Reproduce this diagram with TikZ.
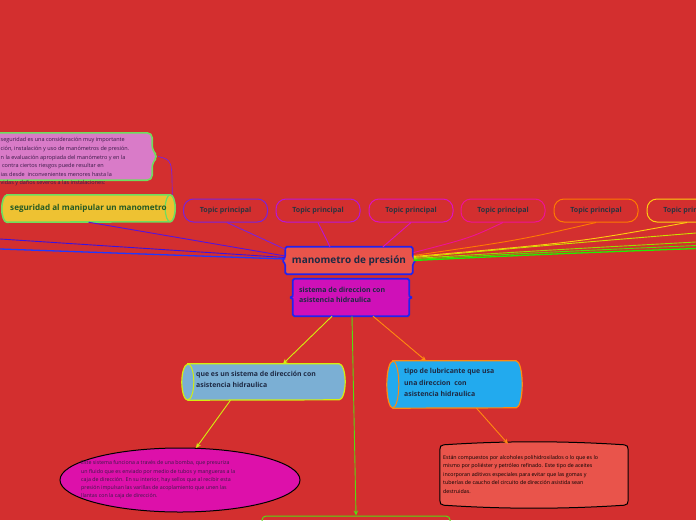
\documentclass[tikz,border=0pt]{standalone}
\usepackage{fontspec}
\setmainfont{Open Sans}
\usetikzlibrary{calc,arrows.meta,shapes.geometric}
\pgfdeclarelayer{back}
\pgfdeclarelayer{shapes}
\pgfsetlayers{back,shapes,main}
\definecolor{bg}{HTML}{D32F2F}
\definecolor{cfill}{HTML}{E9544B}
\definecolor{cblue}{HTML}{2222EE}
\definecolor{navy}{HTML}{1E2A44}
\definecolor{slate}{HTML}{2B3440}
\definecolor{magfill}{HTML}{CF10B8}
\definecolor{gold}{HTML}{EEC232}
\definecolor{lgreen}{HTML}{70DD5E}
\definecolor{dgreen}{HTML}{245A24}
\definecolor{pinkfill}{HTML}{D97BC8}
\definecolor{dpurple}{HTML}{3A1A48}
\definecolor{lblue}{HTML}{7BAFD4}
\definecolor{sky}{HTML}{22AAEE}
\definecolor{ygreen}{HTML}{D4EE10}
\definecolor{orng}{HTML}{FF8A10}
\definecolor{ellfill}{HTML}{DD10AA}
\definecolor{cA}{HTML}{7A22DD}
\definecolor{cB}{HTML}{B816D8}
\definecolor{cC}{HTML}{DD12BE}
\definecolor{cD}{HTML}{EE1296}
\definecolor{cE}{HTML}{FF7A00}
\definecolor{cF}{HTML}{FFCC10}
\definecolor{gA}{HTML}{CCE000}
\definecolor{gB}{HTML}{99DD00}
\definecolor{gC}{HTML}{55E000}
\definecolor{gD}{HTML}{22EE00}
\definecolor{bA}{HTML}{3A12E0}
\definecolor{bB}{HTML}{2038FF}
\definecolor{bC}{HTML}{5514DD}
\definecolor{bgreen}{HTML}{55DD11}
\tikzset{
  topic/.style={draw, line width=1, rounded corners=10, minimum width=84, minimum height=23, inner sep=0, text=slate, font=\bfseries\fontsize{7.1}{8}\selectfont},
  plain/.style={inner sep=0, draw=none},
  link/.style={line width=0.9},
  arr/.style={line width=0.9, -{Stealth[length=5pt,width=4.5pt]}}
}
\begin{document}
\begin{tikzpicture}[x=1pt,y=-1pt]
\useasboundingbox (0,0) rectangle (696,520);
\begin{pgfonlayer}{back}
\fill[bg] (0,0) rectangle (696,520);
\end{pgfonlayer}

% ---------- nodes ----------
\node[plain, minimum width=127, minimum height=27] (m) at (349,260.5)
  {\color{navy}\bfseries\fontsize{10}{11}\selectfont manometro de presión};
\node[plain, minimum width=116, minimum height=37] (s) at (351,297.5) {};
\node[plain, anchor=north west, align=left, text=navy,
  font=\bfseries\fontsize{7}{10}\selectfont] (st) at (299,287) {sistema de direccion con\\asistencia hidraulica};

\node[topic, draw=cA] (t1) at (225.5,210.5) {Topic principal};
\node[topic, draw=cB] (t2) at (318,210.5) {Topic principal};
\node[topic, draw=cC] (t3) at (411,210.5) {Topic principal};
\node[topic, draw=cD] (t4) at (503,210.5) {Topic principal};
\node[topic, draw=cE] (t5) at (596,210.5) {Topic principal};
\node[topic, draw=cF] (t6) at (689,210.5) {Topic principal};

\node[plain, minimum width=173, minimum height=27] (g) at (88.5,208.5)
  {\color{dgreen}\bfseries\fontsize{8.1}{9}\selectfont seguridad al manipular un manometro};
\node[plain, minimum width=160, minimum height=47] (k) at (72,156.5) {};
\node[plain, anchor=north west, align=left, text=dpurple,
  font=\fontsize{5.5}{8.6}\selectfont] (kt) at (0.5,137.5)
  {seguridad es una consideración muy importante\\
   ción, instalación y uso de manómetros de presión.\\
   n la evaluación apropiada del manómetro y en la\\
   \ contra ciertos riesgos puede resultar en\\
   ias desde \ inconvenientes menores hasta la\\
   vidas y daños severos a las instalaciones:};

\node[plain, minimum width=163, minimum height=36] (q) at (263.5,382) {};
\node[plain, anchor=north west, align=left, text=navy,
  font=\bfseries\fontsize{6.9}{11}\selectfont] (qt) at (196,371.5) {que es un sistema de dirección con\\asistencia hidraulica};

\node[plain, minimum width=135, minimum height=47] (t) at (454.5,384.5) {};
\node[plain, anchor=north west, align=left, text=navy,
  font=\bfseries\fontsize{6.9}{11.2}\selectfont] (tt) at (404,368.5) {tipo de lubricante que usa\\una direccion \ con\\asistencia hidraulica};

\node[ellipse, draw=black, line width=1, fill=ellfill, minimum width=240, minimum height=64, inner sep=0] (e) at (180,480) {};
\node[plain, anchor=north west, align=left, text=dpurple,
  font=\fontsize{5.3}{8.3}\selectfont] (et) at (81,460.5)
  {Este sistema funciona a través de una bomba, que presuriza\\
   un fluido que es enviado por medio de tubos y mangueras a la\\
   caja de dirección. En su interior, hay sellos que al recibir esta\\
   presión impulsan las varillas de acoplamiento que unen las\\
   llantas con la caja de dirección.};

\node[plain, minimum width=188, minimum height=64] (r) at (534,475) {};
\node[plain, anchor=north west, align=left, text=black,
  font=\fontsize{5.3}{8.5}\selectfont] (rt) at (443,455)
  {Están compuestos por alcoholes polihidroxilados o lo que es lo\\
   mismo por poliéster y petróleo refinado. Este tipo de aceites\\
   incorporan aditivos especiales para evitar que las gomas y\\
   tuberías de caucho del circuito de dirección asistida sean\\
   destruidas.};

\node[draw=bgreen, line width=1, rounded corners=4, minimum width=188, minimum height=24, inner sep=0] (b) at (356,528) {};

\coordinate (L1) at (0,239);
\coordinate (L2) at (0,249);
\coordinate (R1) at (696,233);
\coordinate (R2) at (696,242);
\coordinate (R3) at (696,245.5);
\coordinate (R4) at (696,248.5);

% ---------- shapes ----------
\begin{pgfonlayer}{shapes}
% central
\draw[cblue, line width=1.7, fill=cfill, rounded corners=1.5]
  (m.north west) -- (m.north east) -- ($(m.east)+(0,-3.5)$) -- ($(m.east)+(3,0)$) -- ($(m.east)+(0,3.5)$)
  -- (m.south east) -- (m.south west) -- ($(m.west)+(0,3.5)$) -- ($(m.west)+(-3,0)$) -- ($(m.west)+(0,-3.5)$) -- cycle;
% sistema
\draw[cblue, line width=1.7, fill=magfill, rounded corners=1.5]
  (s.north west) -- (s.north east) -- ($(s.east)+(0,-5)$)
  .. controls ($(s.east)+(0,-1)$) .. ($(s.east)+(3.5,0)$)
  .. controls ($(s.east)+(0,1)$) .. ($(s.east)+(0,5)$)
  -- (s.south east) -- (s.south west) -- ($(s.west)+(0,5)$)
  .. controls ($(s.west)+(0,1)$) .. ($(s.west)+(-3.5,0)$)
  .. controls ($(s.west)+(0,-1)$) .. ($(s.west)+(0,-5)$) -- cycle;
% seguridad cylinder
\draw[lgreen, line width=1.6, fill=gold]
  ($(g.north west)+(5,0)$) -- ($(g.north east)+(-5,0)$)
  arc[x radius=5, y radius=13.5, start angle=-90, end angle=90]
  -- ($(g.south west)+(5,0)$)
  arc[x radius=5, y radius=13.5, start angle=90, end angle=270] -- cycle;
\draw[lgreen, line width=1.2] ($(g.north east)+(-5,0)$)
  arc[x radius=5, y radius=13.5, start angle=-90, end angle=-270];
% callout
\draw[lgreen, line width=1.6, fill=pinkfill, rounded corners=5]
  (k.north west) -- (k.north east) -- ($(k.east)+(0,-6)$) -- ($(k.east)+(6,0)$) -- ($(k.east)+(0,6)$)
  -- (k.south east) -- (k.south west) -- cycle;
% que es cylinder
\draw[ygreen, line width=1.2, fill=lblue]
  ($(q.north west)+(6,0)$) -- ($(q.north east)+(-6,0)$)
  arc[x radius=6, y radius=18, start angle=-90, end angle=90]
  -- ($(q.south west)+(6,0)$)
  arc[x radius=6, y radius=18, start angle=90, end angle=270] -- cycle;
\draw[ygreen, line width=1] ($(q.north west)+(6,0)$)
  arc[x radius=6, y radius=18, start angle=-90, end angle=90];
% tipo cylinder
\draw[orng, line width=1.2, fill=sky]
  ($(t.north west)+(6,0)$) -- ($(t.north east)+(-6,0)$)
  arc[x radius=6, y radius=23.5, start angle=-90, end angle=90]
  -- ($(t.south west)+(6,0)$)
  arc[x radius=6, y radius=23.5, start angle=90, end angle=270] -- cycle;
\draw[orng, line width=1] ($(t.north west)+(6,0)$)
  arc[x radius=6, y radius=23.5, start angle=-90, end angle=90];
% scroll box
\draw[black, line width=1, fill=cfill]
  ($(r.north west)+(4,2)$) .. controls ($(r.north)+(-30,-2)$) and ($(r.north)+(30,-2)$) .. ($(r.north east)+(-4,2)$)
  .. controls ($(r.north east)+(-1,2)$) and ($(r.north east)+(0,4)$) .. ($(r.north east)+(0,7)$)
  -- ($(r.south east)+(0,-7)$)
  .. controls ($(r.south east)+(0,-4)$) and ($(r.south east)+(-1,-2)$) .. ($(r.south east)+(-4,-2)$)
  .. controls ($(r.south)+(30,2)$) and ($(r.south)+(-30,2)$) .. ($(r.south west)+(4,-2)$)
  .. controls ($(r.south west)+(1,-2)$) and ($(r.south west)+(0,-4)$) .. ($(r.south west)+(0,-7)$)
  -- ($(r.north west)+(0,7)$)
  .. controls ($(r.north west)+(0,4)$) and ($(r.north west)+(1,2)$) .. ($(r.north west)+(4,2)$) -- cycle;
\end{pgfonlayer}

% ---------- connectors ----------
\draw[link, cA] ($(t1.south)+(1.5,0)$) -- ($(m.north west)+(0,2.5)$);
\draw[link, cB] (t2.south) -- ($(m.north)+(-19,0)$);
\draw[link, cC] (t3.south) -- ($(m.north)+(34,0)$);
\draw[link, cD] (t4.south) .. controls (470,238) .. ($(m.east)+(1,-8)$);
\draw[link, cE] (t5.south) .. controls (520,240) .. ($(m.east)+(1,-5)$);
\draw[link, cF] ($(t6.south)+(-2,0)$) .. controls (580,242) .. ($(m.east)+(1,-4)$);
\draw[link, gA] ($(m.east)+(1,-3)$) .. controls (550,245) .. (R1);
\draw[link, gB] ($(m.east)+(1,-2)$) .. controls (550,250) .. (R2);
\draw[link, gC] ($(m.east)+(1,-1)$) .. controls (550,252) .. (R3);
\draw[line width=1.3, gD] ($(m.east)+(1,0)$) .. controls (550,254) .. (R4);
\draw[link, bA] (L1) -- ($(m.west)+(0,-3)$);
\draw[line width=1.3, bB] (L2) -- ($(m.west)+(0,-1.5)$);
\draw[link, bC] (g.south) -- ($(m.west)+(0,-4.5)$);
\draw[line width=0.7, cA] ($(k.east)+(6,0)$) .. controls (172,160) .. ($(g.north east)+(-3,0)$);

\draw[arr, ygreen] ($(s.south)+(-19,0)$) -- ($(q.north)+(19.5,0)$);
\draw[arr, bgreen] ($(s.south)+(1,0)$) -- (b.north);
\draw[arr, orng] ($(s.south)+(22,0)$) -- ($(t.north)+(-28.5,0)$);
\draw[arr, ygreen] ($(q.south)+(-33,0)$) -- ($(e.north)+(16,0.5)$);
\draw[arr, orng] ($(t.south)+(22,0)$) -- ($(r.north)+(-26,1)$);
\end{tikzpicture}
\end{document}
